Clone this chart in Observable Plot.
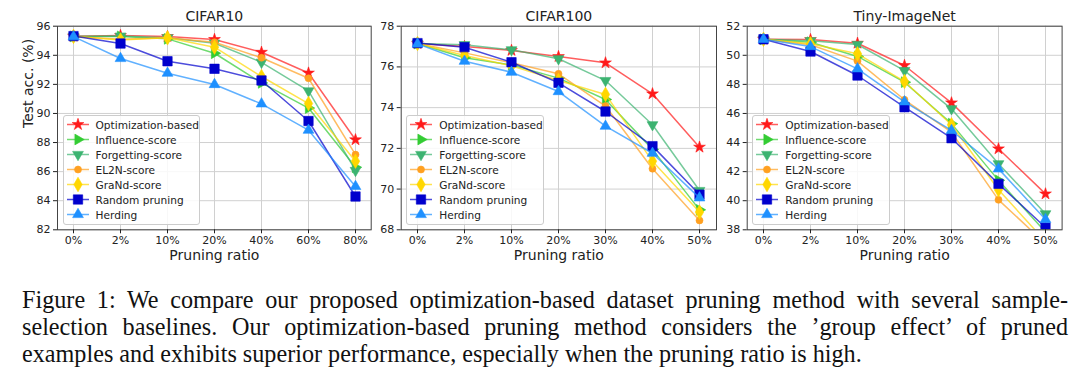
<!DOCTYPE html>
<html><head><meta charset="utf-8">
<script src="https://cdn.jsdelivr.net/npm/d3@7"></script>
<script src="https://cdn.jsdelivr.net/npm/@observablehq/plot@0.6"></script>
<style>
body{margin:0;background:#fff;}
#wrap{position:relative;width:1080px;height:387px;overflow:hidden;font-family:"DejaVu Sans";background:#fff;}
.panel{position:absolute;top:0;}
.legend{position:absolute;box-sizing:border-box;background:rgba(255,255,255,0.85);border:1px solid #cccccc;border-radius:3px;font:10.6px "DejaVu Sans";color:#222;padding-top:1px;}
.legend .row{height:15px;display:flex;align-items:center;white-space:nowrap;}
.legend svg{display:block;flex:none;}
.caption{position:absolute;left:22px;width:1046px;font-family:"Liberation Serif","Times New Roman",serif;font-size:21px;line-height:27px;color:#111;}
.caption .ln{white-space:nowrap;height:27px;}
.caption .ln span{display:inline-block;}
</style></head>
<body><div id="wrap"></div>
<script>
// ---------- data ----------
const methods = ["Optimization-based","Influence-score","Forgetting-score","EL2N-score","GraNd-score","Random pruning","Herding"];
const colors  = ["#ff1a1a","#33cc33","#3cb371","#ffa020","#ffd700","#0000cd","#1e90ff"];
const symbols = ["star","triangle","triangle","circle","diamond","square","triangle"];
const rotations = [0,90,180,0,0,0,0];
const sizes = [3.7,4.0,4.0,3.5,4.4,5.3,4.0];

const cifar10Ticks = ["0%","2%","10%","20%","40%","60%","80%"];
const cifar10 = [
  [95.31,95.36,95.29,95.09,94.21,92.78,88.19],
  [95.30,95.30,95.13,94.14,92.10,90.37,86.30],
  [95.30,95.32,95.20,94.83,93.52,91.55,86.08],
  [95.30,95.10,95.20,94.90,93.83,92.42,87.17],
  [95.30,95.05,95.20,94.56,92.54,90.68,86.72],
  [95.32,94.81,93.59,93.07,92.27,89.48,84.29],
  [95.28,93.78,92.77,91.99,90.66,88.85,84.98]
];
const cifar10YTicks = [82,84,86,88,90,92,94,96];

const cifar100Ticks = ["0%","2%","10%","20%","30%","40%","50%"];
const cifar100 = [
  [77.15,77.00,76.81,76.51,76.20,74.68,72.06],
  [77.15,76.45,76.10,75.45,74.40,71.95,68.98],
  [77.15,77.09,76.84,76.40,75.33,73.16,69.93],
  [77.15,76.69,76.20,75.66,74.08,71.00,68.46],
  [77.15,76.56,76.05,75.33,74.65,71.37,68.87],
  [77.17,76.97,76.23,75.22,73.81,72.11,69.73],
  [77.13,76.28,75.74,74.79,73.09,71.76,69.57]
];
const cifar100YTicks = [68,70,72,74,76,78];

const tinyTicks = ["0%","2%","10%","20%","30%","40%","50%"];
const tiny = [
  [51.10,51.08,50.83,49.30,46.73,43.57,40.47],
  [51.10,50.90,49.92,48.15,45.30,41.40,37.85],
  [51.10,51.00,50.74,48.95,46.32,42.54,39.10],
  [51.10,50.72,49.60,46.94,44.71,40.06,37.05],
  [51.10,50.79,50.10,48.20,45.22,40.75,37.20],
  [51.10,50.26,48.61,46.43,44.30,41.16,38.16],
  [51.10,50.60,49.07,46.80,44.83,42.19,38.71]
];
const tinyYTicks = [38,40,42,44,46,48,50,52];

const titles = ["CIFAR10","CIFAR100","Tiny-ImageNet"];
const xLabel = "Pruning ratio";
const yLabel = "Test acc. (%)";
const captionLines = [
  "Figure 1: We compare our proposed optimization-based dataset pruning method with several sample-",
  "selection baselines. Our optimization-based pruning method considers the \u2019group effect\u2019 of pruned",
  "examples and exhibits superior performance, especially when the pruning ratio is high."
];

// ---------- drawing ----------
const wrap = document.getElementById("wrap");
const FRAME_TOP = 25.7, FRAME_BOTTOM = 229.3, SVG_H = 262;

function panel(cfg) {
  const {ticks, values, yDomain, yTicks, title, showYLabel, left, width, frameLeft, frameRight} = cfg;
  const marks = [
    Plot.gridX(ticks, {stroke:"#d0d0d0", strokeOpacity:1, strokeWidth:1}),
    Plot.gridY(yTicks, {stroke:"#d0d0d0", strokeOpacity:1, strokeWidth:1}),
  ];
  values.forEach((vals, m) => {
    const rows = ticks.map((t, i) => ({t, v: vals[i]}));
    marks.push(Plot.line(rows, {x:"t", y:"v", stroke:colors[m], strokeWidth:1.5, strokeOpacity:0.7, clip:true}));
    marks.push(Plot.dot(rows, {x:"t", y:"v", symbol:symbols[m], r:sizes[m], fill:colors[m], stroke:colors[m], strokeWidth:0.6, rotate:rotations[m], clip:true}));
  });
  marks.push(Plot.frame({stroke:"#444", strokeWidth:1}));
  marks.push(Plot.axisX({tickSize:4, tickPadding:2, label:null, fontSize:11}));
  marks.push(Plot.axisY({ticks:yTicks, tickSize:4, tickPadding:3, label:null, fontSize:11}));
  marks.push(Plot.text([title], {frameAnchor:"top", dy:-10, fontSize:14, lineAnchor:"middle", fill:"#222"}));
  marks.push(Plot.text([xLabel], {frameAnchor:"bottom", dy:26, fontSize:14, lineAnchor:"middle", fill:"#222"}));
  if (showYLabel) marks.push(Plot.text([yLabel], {frameAnchor:"left", dx:-29, rotate:-90, fontSize:14, lineAnchor:"middle", fill:"#222"}));
  const svg = Plot.plot({
    width, height: SVG_H,
    marginLeft: frameLeft - left, marginRight: left + width - frameRight,
    marginTop: FRAME_TOP, marginBottom: SVG_H - FRAME_BOTTOM,
    x: {type:"point", domain:ticks, padding:0.3},
    y: {domain:yDomain},
    style: {fontFamily:"DejaVu Sans", fontSize:"11px", color:"#222", background:"transparent", overflow:"visible"},
    marks
  });
  svg.classList.add("panel");
  svg.style.left = left + "px";
  wrap.appendChild(svg);

  // legend
  const lg = document.createElement("div");
  lg.className = "legend";
  lg.style.left = (frameLeft + 5.5) + "px";
  lg.style.top = "115px";
  lg.style.width = cfg.legendWidth + "px";
  lg.style.height = "109.5px";
  methods.forEach((name, m) => {
    const row = document.createElement("div");
    row.className = "row";
    const s = d3.create("svg").attr("width", 32).attr("height", 15);
    s.append("line").attr("x1", 3).attr("x2", 25).attr("y1", 7.5).attr("y2", 7.5)
      .attr("stroke", colors[m]).attr("stroke-width", 1.5).attr("stroke-opacity", 0.7);
    const type = {star:d3.symbolStar, triangle:d3.symbolTriangle, circle:d3.symbolCircle, diamond:d3.symbolDiamond, square:d3.symbolSquare}[symbols[m]];
    s.append("path").attr("d", d3.symbol(type, Math.PI * sizes[m] * sizes[m])())
      .attr("transform", `translate(14,7.5) rotate(${rotations[m]})`)
      .attr("fill", colors[m]).attr("stroke", colors[m]).attr("stroke-width", 0.6);
    row.appendChild(s.node());
    const tx = document.createElement("span");
    tx.textContent = name;
    row.appendChild(tx);
    lg.appendChild(row);
  });
  wrap.appendChild(lg);
}

panel({ticks:cifar10Ticks, values:cifar10, yDomain:[82,96], yTicks:cifar10YTicks, title:titles[0], showYLabel:true,
  left:0, width:380, frameLeft:57, frameRight:370.7, legendWidth:137.5});
panel({ticks:cifar100Ticks, values:cifar100, yDomain:[68,78], yTicks:cifar100YTicks, title:titles[1], showYLabel:false,
  left:372, width:352, frameLeft:400.7, frameRight:716, legendWidth:137.5});
panel({ticks:tinyTicks, values:tiny, yDomain:[38,52], yTicks:tinyYTicks, title:titles[2], showYLabel:false,
  left:724, width:356, frameLeft:746.7, frameRight:1061.6, legendWidth:137.5});

// caption: font sized so the last (unjustified) line is ~840px; lines 1-2 justified by word spacing
const cap = document.createElement("div");
cap.className = "caption";
cap.style.top = "286px";
const spans = captionLines.map(line => {
  const d = document.createElement("div");
  d.className = "ln";
  const s = document.createElement("span");
  s.textContent = line;
  d.appendChild(s);
  cap.appendChild(d);
  return s;
});
wrap.appendChild(cap);
const w3 = spans[2].getBoundingClientRect().width;
const fs = 21 * 840 / w3;
cap.style.fontSize = fs.toFixed(2) + "px";
spans.forEach((s, i) => {
  if (i < 2) {
    const w = s.getBoundingClientRect().width;
    const nSp = captionLines[i].split(" ").length - 1;
    s.style.wordSpacing = ((1046 - w) / nSp).toFixed(2) + "px";
  }
});
</script>
</body></html>
